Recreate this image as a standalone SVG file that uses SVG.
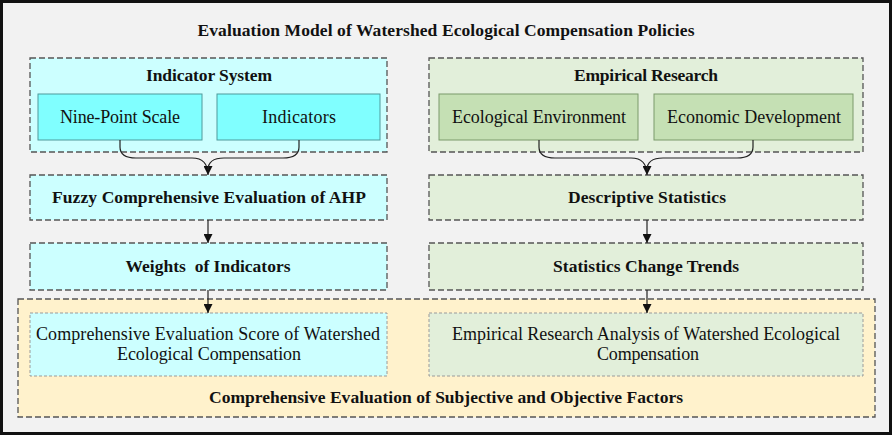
<svg xmlns="http://www.w3.org/2000/svg" width="892" height="435" viewBox="0 0 892 435">
<defs>
<style>
text{font-family:"Liberation Serif","Times New Roman",serif;fill:#111;text-anchor:middle}
.b{font-weight:bold;font-size:17.5px}
.r{font-size:18px}
.cont{stroke:#555;stroke-width:1.3;stroke-dasharray:6 3}
.cy{fill:#ccffff}
.gr{fill:#e2efda}
.cyb{fill:#80ffff;stroke:#4f9a9c;stroke-width:1}
.grb{fill:#c5e0b4;stroke:#7a9a6a;stroke-width:1}
.inner{stroke:#9a9a9a;stroke-width:1;stroke-dasharray:3 2}
.edge{fill:none;stroke:#222;stroke-width:1.2}
.arr{marker-end:url(#ah)}
</style>
<marker id="ah" viewBox="0 0 10 10" refX="10" refY="5" markerWidth="9" markerHeight="9" markerUnits="userSpaceOnUse" orient="auto">
<path d="M0,0 L10,5 L0,10 z" fill="#111"/>
</marker>
</defs>
<rect x="1.5" y="1.5" width="889" height="432" fill="#f2f2f2" stroke="#111" stroke-width="3"/>
<g id="title"><text class="b" x="446" y="36" textLength="497">Evaluation Model of Watershed Ecological Compensation Policies</text></g>

<g id="bottom-container">
<rect class="cont" x="18" y="299" width="857" height="118" fill="#fff2cc"/>
<text class="b" x="446" y="403" textLength="474">Comprehensive Evaluation of Subjective and Objective Factors</text>
</g>

<g id="indicator-system">
<rect class="cont cy" x="30" y="58" width="357" height="94"/>
<text class="b" x="209" y="81" textLength="126">Indicator System</text>
</g>
<g id="nine-point-scale">
<rect class="cyb" x="38" y="94" width="164" height="46"/>
<text class="r" x="120" y="123" textLength="120">Nine-Point Scale</text>
</g>
<g id="indicators">
<rect class="cyb" x="217" y="94" width="163" height="46"/>
<text class="r" x="299" y="123" textLength="74">Indicators</text>
</g>
<g id="fuzzy-ahp">
<rect class="cont cy" x="30" y="175" width="357" height="45"/>
<text class="b" x="209" y="203" textLength="314">Fuzzy Comprehensive Evaluation of AHP</text>
</g>
<g id="weights">
<rect class="cont cy" x="30" y="243" width="357" height="47"/>
<text class="b" x="208" y="272" textLength="165" style="white-space:pre" xml:space="preserve">Weights  of Indicators</text>
</g>
<g id="score">
<rect class="inner cy" x="30" y="313" width="357" height="63"/>
<text class="r" x="208" y="340" textLength="344">Comprehensive Evaluation Score of Watershed</text>
<text class="r" x="209" y="360" textLength="184">Ecological Compensation</text>
</g>

<g id="empirical-research">
<rect class="cont gr" x="429" y="58" width="434" height="94"/>
<text class="b" x="646" y="81" textLength="144">Empirical Research</text>
</g>
<g id="ecological-environment">
<rect class="grb" x="439" y="94" width="199" height="46"/>
<text class="r" x="539" y="123" textLength="174">Ecological Environment</text>
</g>
<g id="economic-development">
<rect class="grb" x="654" y="94" width="199" height="46"/>
<text class="r" x="754" y="123" textLength="174">Economic Development</text>
</g>
<g id="descriptive-statistics">
<rect class="cont gr" x="429" y="175" width="434" height="45"/>
<text class="b" x="647" y="203" textLength="158">Descriptive Statistics</text>
</g>
<g id="change-trends">
<rect class="cont gr" x="429" y="243" width="434" height="47"/>
<text class="b" x="646" y="272" textLength="186">Statistics Change Trends</text>
</g>
<g id="empirical-analysis">
<rect class="inner gr" x="429" y="313" width="434" height="63"/>
<text class="r" x="646" y="340" textLength="388">Empirical Research Analysis of Watershed Ecological</text>
<text class="r" x="648" y="360" textLength="102">Compensation</text>
</g>

<g id="connectors">
<path class="edge arr" d="M120,140 V147 Q120,158 136,158 H192 Q208,158 208,175"/>
<path class="edge" d="M299,140 V147 Q299,158 283,158 H224 Q208,158 208,170"/>
<path class="edge arr" d="M539,140 V147 Q539,158 555,158 H631 Q647,158 647,175"/>
<path class="edge" d="M753,140 V147 Q753,158 737,158 H663 Q647,158 647,170"/>
<path class="edge arr" d="M208,220 V243"/>
<path class="edge arr" d="M208,290 V313"/>
<path class="edge arr" d="M647,220 V243"/>
<path class="edge arr" d="M647,290 V313"/>
</g>
</svg>
